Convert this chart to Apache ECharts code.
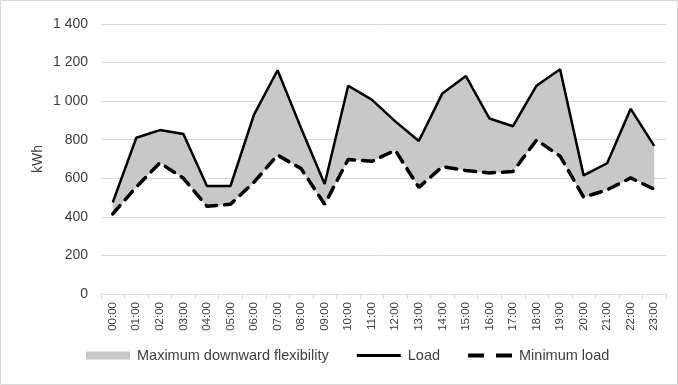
<!DOCTYPE html>
<html><head><meta charset="utf-8">
<script src="https://cdn.jsdelivr.net/npm/echarts@6/dist/echarts.min.js"></script>
<style>html,body{margin:0;padding:0;background:#fff}#c{width:678px;height:385px}</style>
</head><body><div id="c"></div>
<script>
var hours = ["00:00","01:00","02:00","03:00","04:00","05:00","06:00","07:00","08:00","09:00","10:00","11:00","12:00","13:00","14:00","15:00","16:00","17:00","18:00","19:00","20:00","21:00","22:00","23:00"];
var load = [475,810,850,830,560,560,930,1160,860,570,1080,1008,895,793,1040,1130,910,870,1080,1165,615,678,960,768];
var minLoad = [415,555,680,600,455,465,580,720,650,465,698,688,745,553,660,640,628,635,798,715,502,540,602,543];
var yTicks = [0,200,400,600,800,1000,1200,1400];
var flex = load.map(function(v,i){return v - minLoad[i];});
var font = "'Liberation Sans', 'Open Sans', sans-serif";
var chart = echarts.init(document.getElementById('c'), null, {renderer:'canvas'});
chart.setOption({
  animation:false,
  textStyle:{fontFamily:font},
  graphic:[{type:'rect',shape:{x:0.5,y:0.5,width:677,height:384},style:{fill:'none',stroke:'#d9d9d9',lineWidth:1},silent:true}],
  grid:{left:101,right:12,top:24,bottom:91},
  legend:{
    bottom:17,left:81,
    data:[
      {name:'Maximum downward flexibility',icon:'rect'},
      {name:'Load',icon:'path://M0,0H44V3H0Z'},
      {name:'Minimum load',icon:'path://M0,0H16V4H0ZM28,0H44V4H28Z'}
    ],
    itemWidth:44,itemHeight:8,itemGap:28,
    textStyle:{fontSize:14.5,color:'#404040',fontFamily:font,padding:[0,0,0,2]}
  },
  xAxis:{
    type:'category',data:hours,boundaryGap:true,
    axisLine:{lineStyle:{color:'#d9d9d9'}},
    axisTick:{show:true,lineStyle:{color:'#d9d9d9'},length:5},
    axisLabel:{rotate:90,color:'#404040',fontSize:11.5,margin:8,interval:0}
  },
  yAxis:{
    type:'value',min:0,max:1400,interval:200,
    name:'kWh',nameLocation:'middle',nameGap:56,nameRotate:90,nameMoveOverlap:false,
    nameTextStyle:{fontSize:14,color:'#404040'},
    axisLine:{show:false},axisTick:{show:false},
    axisLabel:{color:'#404040',fontSize:14,margin:13,formatter:function(v){return String(v).replace(/\B(?=(\d{3})+(?!\d))/g,' ');}},
    splitLine:{lineStyle:{color:'#d9d9d9'}}
  },
  series:[
    {name:'base',type:'line',stack:'f',data:minLoad,symbol:'none',lineStyle:{opacity:0},silent:true},
    {name:'Maximum downward flexibility',type:'line',stack:'f',data:flex,symbol:'none',lineStyle:{width:0,opacity:0},
     itemStyle:{color:'#c8c8c8'},areaStyle:{color:'#c8c8c8',opacity:1}},
    {name:'Load',type:'line',data:load,symbol:'none',lineStyle:{color:'#000',width:2.5},itemStyle:{color:'#000'}},
    {name:'Minimum load',type:'line',data:minLoad,symbol:'none',lineStyle:{color:'#000',width:3.5,type:[11,8],cap:'round'},itemStyle:{color:'#000'}}
  ]
});
</script></body></html>
